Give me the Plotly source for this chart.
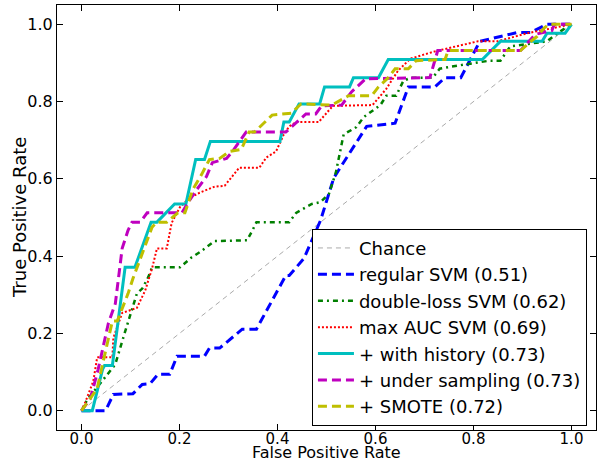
import plotly.graph_objects as go

labels = ["Chance", "regular SVM (0.51)", "double-loss SVM (0.62)", "max AUC SVM (0.69)",
          "+ with history (0.73)", "+ under sampling (0.73)", "+ SMOTE (0.72)"]

fpr_chance = [0.0, 1.0]
tpr_chance = [0.0, 1.0]

fpr_regular = [0.0, 0.049, 0.065, 0.105, 0.124, 0.140, 0.156, 0.180, 0.195, 0.251, 0.261, 0.282,
               0.328, 0.357, 0.417, 0.424, 0.454, 0.488, 0.515, 0.535, 0.582, 0.640, 0.667, 0.721,
               0.742, 0.774, 0.813, 0.890, 0.916, 0.950, 1.0]
tpr_regular = [0.0, 0.0, 0.042, 0.044, 0.068, 0.070, 0.094, 0.094, 0.141, 0.141, 0.162, 0.162,
               0.211, 0.211, 0.350, 0.350, 0.394, 0.493, 0.603, 0.642, 0.736, 0.744, 0.838, 0.838,
               0.862, 0.862, 0.956, 0.979, 0.979, 1.0, 1.0]

fpr_double = [0.0, 0.012, 0.053, 0.069, 0.085, 0.099, 0.113, 0.124, 0.136, 0.144, 0.201, 0.225,
              0.241, 0.272, 0.338, 0.349, 0.357, 0.424, 0.438, 0.470, 0.488, 0.505, 0.519, 0.535,
              0.545, 0.561, 0.576, 0.590, 0.610, 0.622, 0.642, 0.657, 0.673, 0.717, 0.731, 0.752,
              0.833, 0.855, 0.875, 0.950, 0.965, 0.987, 1.0]
tpr_double = [0.0, 0.029, 0.094, 0.120, 0.188, 0.245, 0.303, 0.316, 0.345, 0.371, 0.371, 0.397,
              0.410, 0.439, 0.441, 0.467, 0.488, 0.488, 0.512, 0.535, 0.540, 0.561, 0.616, 0.715,
              0.723, 0.734, 0.760, 0.773, 0.791, 0.815, 0.815, 0.854, 0.862, 0.862, 0.885, 0.890,
              0.906, 0.906, 0.943, 0.956, 0.971, 0.990, 1.0]

fpr_maxauc = [0.0, 0.008, 0.024, 0.032, 0.063, 0.065, 0.083, 0.093, 0.113, 0.130, 0.144, 0.154,
              0.174, 0.184, 0.201, 0.221, 0.241, 0.272, 0.292, 0.322, 0.363, 0.377, 0.397, 0.413,
              0.424, 0.438, 0.484, 0.513, 0.594, 0.622, 0.646, 0.671, 0.721, 0.809, 0.849, 0.910,
              0.985, 1.0]
tpr_maxauc = [0.0, 0.023, 0.076, 0.138, 0.138, 0.188, 0.253, 0.258, 0.266, 0.311, 0.368, 0.420,
              0.420, 0.486, 0.527, 0.551, 0.564, 0.580, 0.582, 0.629, 0.629, 0.655, 0.671, 0.715,
              0.736, 0.747, 0.747, 0.789, 0.791, 0.833, 0.880, 0.911, 0.930, 0.956, 0.956, 0.977,
              0.995, 1.0]

fpr_history = [0.0, 0.022, 0.043, 0.047, 0.063, 0.089, 0.109, 0.142, 0.154, 0.190, 0.213, 0.233,
               0.251, 0.263, 0.405, 0.413, 0.424, 0.444, 0.486, 0.496, 0.547, 0.555, 0.606, 0.626,
               0.818, 0.855, 0.940, 0.950, 0.987, 1.0]
tpr_history = [0.0, 0.0, 0.107, 0.117, 0.117, 0.371, 0.371, 0.488, 0.488, 0.535, 0.535, 0.650,
               0.650, 0.697, 0.697, 0.747, 0.747, 0.794, 0.794, 0.838, 0.838, 0.862, 0.862, 0.909,
               0.909, 0.956, 0.956, 0.977, 0.977, 1.0]

fpr_under = [0.0, 0.018, 0.034, 0.045, 0.055, 0.069, 0.083, 0.095, 0.103, 0.120, 0.134, 0.205,
             0.217, 0.235, 0.255, 0.267, 0.296, 0.308, 0.322, 0.336, 0.417, 0.458, 0.478, 0.490,
             0.531, 0.551, 0.580, 0.711, 0.727, 0.896, 0.926, 0.960, 0.965, 1.0]
tpr_under = [0.0, 0.031, 0.107, 0.172, 0.227, 0.277, 0.420, 0.467, 0.488, 0.488, 0.512, 0.512,
             0.538, 0.572, 0.606, 0.642, 0.653, 0.671, 0.695, 0.721, 0.721, 0.768, 0.768, 0.789,
             0.791, 0.825, 0.859, 0.862, 0.932, 0.932, 0.974, 0.984, 1.0, 1.0]

fpr_smote = [0.0, 0.032, 0.043, 0.053, 0.063, 0.073, 0.079, 0.095, 0.105, 0.124, 0.134, 0.144,
             0.154, 0.174, 0.197, 0.211, 0.227, 0.245, 0.261, 0.282, 0.302, 0.326, 0.342, 0.353,
             0.389, 0.428, 0.448, 0.511, 0.545, 0.592, 0.606, 0.626, 0.640, 0.667, 0.683, 0.742,
             0.748, 0.896, 0.914, 0.930, 0.944, 0.954, 1.0]
tpr_smote = [0.0, 0.057, 0.120, 0.180, 0.232, 0.232, 0.251, 0.303, 0.342, 0.407, 0.446, 0.475,
             0.488, 0.488, 0.512, 0.512, 0.572, 0.611, 0.650, 0.653, 0.671, 0.676, 0.721, 0.721,
             0.765, 0.770, 0.794, 0.791, 0.815, 0.815, 0.838, 0.862, 0.885, 0.885, 0.906, 0.909,
             0.932, 0.932, 0.953, 0.969, 0.990, 1.0, 1.0]

x_ticks = [0.0, 0.2, 0.4, 0.6, 0.8, 1.0]
y_ticks = [0.0, 0.2, 0.4, 0.6, 0.8, 1.0]
tick_text = ["0.0", "0.2", "0.4", "0.6", "0.8", "1.0"]
x_title = "False Positive Rate"
y_title = "True Positive Rate"

series = [
    (fpr_chance, tpr_chance, "#aaaaaa", 1, "5px,4px"),
    (fpr_regular, tpr_regular, "#0000ff", 3, "9px,5px"),
    (fpr_double, tpr_double, "#007f00", 2.5, "5px,4px,2px,4px"),
    (fpr_maxauc, tpr_maxauc, "#ff0000", 2, "2px,2px"),
    (fpr_history, tpr_history, "#00bfbf", 3, "solid"),
    (fpr_under, tpr_under, "#bf00bf", 3, "9px,5px"),
    (fpr_smote, tpr_smote, "#bfbf00", 3, "9px,5px"),
]

fig = go.Figure()
for (xs, ys, color, w, dash), name in zip(series, labels):
    fig.add_trace(go.Scatter(x=xs, y=ys, mode="lines", name=name,
                             line=dict(color=color, width=w, dash=dash)))

axis_common = dict(showgrid=False, zeroline=False, showline=True, linecolor="black",
                   linewidth=1, mirror="ticks", ticks="inside", ticklen=6,
                   tickcolor="black", automargin=False)

fig.update_layout(
    width=598, height=463,
    margin=dict(l=57, r=2, t=5, b=33),
    paper_bgcolor="white", plot_bgcolor="white",
    font=dict(family="DejaVu Sans", color="black"),
    xaxis=dict(range=[-0.05, 1.05], tickvals=x_ticks, ticktext=tick_text,
               tickfont=dict(size=15, color="black"), ticklabelstandoff=-5, **axis_common),
    yaxis=dict(range=[-0.05, 1.05], tickvals=y_ticks, ticktext=tick_text,
               tickfont=dict(size=16, color="black"), **axis_common),
    legend=dict(x=0.473, y=0.01, xanchor="left", yanchor="bottom",
                bordercolor="black", borderwidth=1, bgcolor="white",
                font=dict(size=18, color="black"), tracegroupgap=0, itemwidth=36),
    showlegend=True,
    annotations=[
        dict(text=x_title, xref="paper", yref="paper", x=0.5, y=0, yshift=-33,
             xanchor="center", yanchor="bottom", showarrow=False, font=dict(size=16),
             borderpad=0),
        dict(text=y_title, xref="paper", yref="paper", x=0, y=0.5, xshift=-50,
             xanchor="left", yanchor="middle", textangle=-90, showarrow=False,
             font=dict(size=18)),
    ],
)

fig.write_html("out.html", config={"displayModeBar": False},
               post_script="document.body.style.margin='0';")
